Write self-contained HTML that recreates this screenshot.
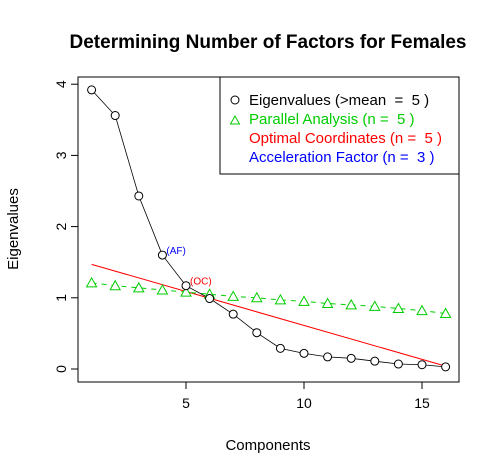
<!DOCTYPE html>
<html><head><meta charset="utf-8"><style>body{margin:0;background:#fff}svg{display:block;font-family:"Liberation Sans",sans-serif}text{white-space:pre}</style></head>
<body>
<svg id="chart" width="500" height="476" viewBox="0 0 500 476">
<text x="268" y="48" font-size="19" font-weight="bold" text-anchor="middle">Determining Number of Factors for Females</text>
<rect x="78" y="77" width="381" height="305" fill="none" stroke="#000"/>
<text x="268" y="450" font-size="15" text-anchor="middle">Components</text>
<text transform="translate(18,229) rotate(-90)" font-size="15" text-anchor="middle">Eigenvalues</text>
<g id="axes"></g><g id="marks"></g>
<g>
<rect x="220" y="77" width="239" height="97" fill="#fff" stroke="#000"/>
<circle cx="235" cy="100" r="4" fill="none" stroke="#000"/>
<text x="249" y="105" font-size="15" xml:space="preserve">Eigenvalues (&gt;mean  =  5 )</text>
<path d="M230.5 124 L235 116 L239.5 124 Z" fill="none" stroke="#00cd00"/>
<text x="249" y="124" font-size="15" fill="#00cd00" xml:space="preserve">Parallel Analysis (n =  5 )</text>
<text x="249" y="143" font-size="15" fill="#ff0000" xml:space="preserve">Optimal Coordinates (n =  5 )</text>
<text x="249" y="162" font-size="15" fill="#0000ff" xml:space="preserve">Acceleration Factor (n =  3 )</text>
</g>
</svg>
<script>
const components=[1,2,3,4,5,6,7,8,9,10,11,12,13,14,15,16];
const eigenvalues=[3.92,3.56,2.43,1.6,1.17,0.99,0.77,0.51,0.29,0.22,0.17,0.15,0.11,0.07,0.06,0.03];
const parallel=[1.21,1.17,1.14,1.11,1.08,1.05,1.02,1.0,0.97,0.95,0.92,0.9,0.88,0.85,0.82,0.78];
const ocLine=[1.47,0.04];
const xTicks=[5,10,15];
const yTicks=[0,1,2,3,4];
const ns="http://www.w3.org/2000/svg";
const X=v=>91.6+(v-1)*23.6, Y=v=>369-v*71.2;
function mk(t,a,p){const e=document.createElementNS(ns,t);for(const k in a)e.setAttribute(k,a[k]);p.appendChild(e);return e;}
const ax=document.getElementById('axes'),mg=document.getElementById('marks');
xTicks.forEach(t=>{const l=mk('line',{x1:X(t),x2:X(t),y1:382,y2:389,stroke:'#000'},ax);


const s=mk('text',{x:X(t),y:408,'font-size':14,'text-anchor':'middle'},ax);s.textContent=t;

});
yTicks.forEach(t=>{const l=mk('line',{x1:71,x2:78,y1:Y(t),y2:Y(t),stroke:'#000'},ax);


const s=mk('text',{transform:`translate(66,${Y(t)}) rotate(-90)`,'font-size':14,'text-anchor':'middle'},ax);s.textContent=t;

});
const oc=mk('line',{x1:X(1),y1:Y(ocLine[0]),x2:X(16),y2:Y(ocLine[1]),stroke:'#ff0000'},mg);


const pp=mk('polyline',{points:components.map((c,i)=>X(c)+','+Y(parallel[i])).join(' '),fill:'none',stroke:'#00cd00','stroke-dasharray':'5,5'},mg);


const ep=mk('polyline',{points:components.map((c,i)=>X(c)+','+Y(eigenvalues[i])).join(' '),fill:'none',stroke:'#000','stroke-width':0.8},mg);


components.forEach((c,i)=>{
const x=X(c),y=Y(parallel[i]);
const t=mk('path',{d:`M${x-5} ${y+4} L${x} ${y-5} L${x+5} ${y+4} Z`,fill:'#fff',stroke:'#00cd00'},mg);


const p=mk('circle',{cx:x,cy:Y(eigenvalues[i]),r:4,fill:'#fff',stroke:'#000'},mg);

});
const af=mk('text',{x:X(4)+4,y:Y(eigenvalues[3])-1,'font-size':10,fill:'#0000ff'},mg);af.textContent='(AF)';


const ol=mk('text',{x:X(5)+4,y:Y(eigenvalues[4])-1,'font-size':10,fill:'#ff0000'},mg);ol.textContent='(OC)';


</script>
</body></html>
